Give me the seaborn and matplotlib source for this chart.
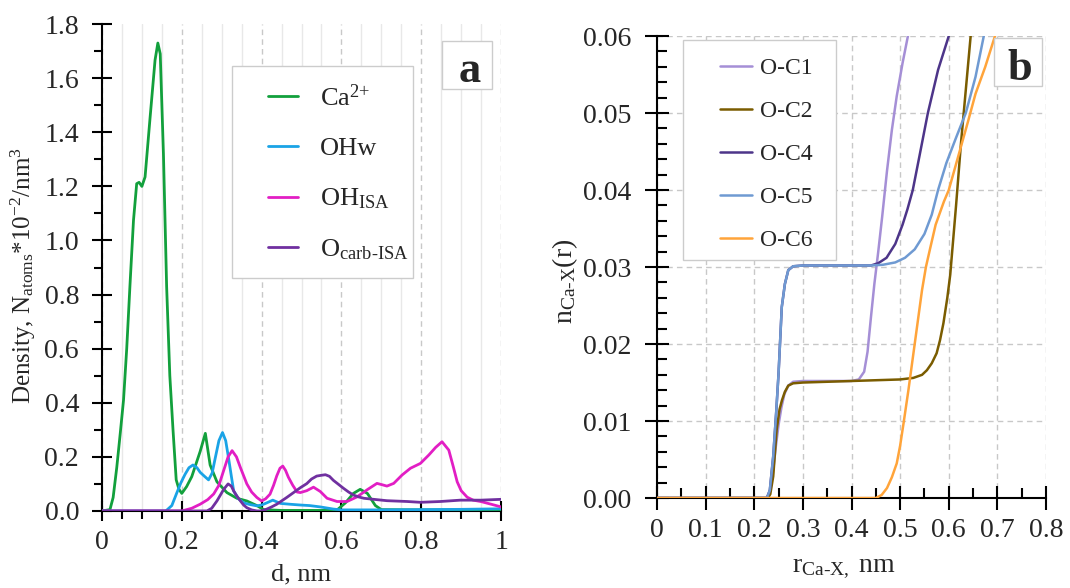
import matplotlib
matplotlib.use("Agg")
import matplotlib.pyplot as plt
from matplotlib.patches import Rectangle
from matplotlib.ticker import MultipleLocator, FormatStrFormatter
import seaborn as sns

# ---- panel a: density profiles vs distance d (nm) ----
ca_d = [0, 0.02, 0.028, 0.037, 0.046, 0.054, 0.062, 0.07, 0.079, 0.087, 0.093, 0.1, 0.108,
        0.12, 0.133, 0.14, 0.146, 0.154, 0.162, 0.17, 0.178, 0.186, 0.193, 0.2, 0.212, 0.225,
        0.246, 0.259, 0.271, 0.288, 0.313, 0.338, 0.363, 0.388, 0.405, 0.45, 0.55, 0.59, 0.61,
        0.63, 0.647, 0.665, 0.685, 0.7, 0.8, 1.0]
ca_rho = [0, 0.005, 0.05, 0.16, 0.29, 0.41, 0.6, 0.83, 1.075, 1.21, 1.215, 1.2, 1.235,
          1.445, 1.667, 1.73, 1.69, 1.32, 0.83, 0.5, 0.3, 0.115, 0.08, 0.065, 0.09, 0.127,
          0.22, 0.287, 0.17, 0.108, 0.068, 0.047, 0.037, 0.02, 0.005, 0.002, 0.002, 0.005, 0.03,
          0.065, 0.08, 0.065, 0.02, 0.005, 0.004, 0.005]

ohw_d = [0, 0.16, 0.175, 0.187, 0.198, 0.208, 0.218, 0.228, 0.238, 0.246, 0.257, 0.267, 0.276,
         0.284, 0.293, 0.302, 0.31, 0.317, 0.324, 0.33, 0.342, 0.355, 0.37, 0.388, 0.4, 0.413,
         0.428, 0.447, 0.47, 0.497, 0.52, 0.547, 0.58, 0.6, 0.7, 0.8, 0.9, 1.0]
ohw_rho = [0, 0, 0.02, 0.065, 0.105, 0.135, 0.16, 0.17, 0.16, 0.143, 0.128, 0.115, 0.14,
           0.197, 0.26, 0.29, 0.26, 0.197, 0.13, 0.074, 0.045, 0.03, 0.024, 0.019, 0.022, 0.03,
           0.04, 0.028, 0.025, 0.022, 0.02, 0.015, 0.007, 0.004, 0.004, 0.005, 0.006, 0.008]

ohisa_d = [0, 0.2, 0.225, 0.246, 0.265, 0.28, 0.293, 0.305, 0.316, 0.326, 0.337, 0.347, 0.363,
           0.375, 0.388, 0.4, 0.41, 0.421, 0.43, 0.438, 0.446, 0.453, 0.46, 0.467, 0.478, 0.489,
           0.497, 0.513, 0.53, 0.547, 0.564, 0.589, 0.614, 0.639, 0.664, 0.689, 0.702, 0.714,
           0.731, 0.752, 0.773, 0.798, 0.819, 0.836, 0.852, 0.869, 0.88, 0.89, 0.9, 0.915, 0.93,
           0.949, 0.975, 1.0]
ohisa_rho = [0, 0, 0.01, 0.025, 0.042, 0.063, 0.095, 0.15, 0.2, 0.223, 0.2, 0.16, 0.1,
             0.07, 0.05, 0.037, 0.045, 0.062, 0.095, 0.13, 0.158, 0.166, 0.15, 0.125, 0.095, 0.07,
             0.068, 0.075, 0.088, 0.072, 0.047, 0.035, 0.035, 0.052, 0.078, 0.102, 0.097, 0.092,
             0.102, 0.133, 0.158, 0.176, 0.207, 0.235, 0.256, 0.225, 0.165, 0.108, 0.075, 0.051,
             0.04, 0.035, 0.025, 0.015]

ocarb_d = [0, 0.263, 0.275, 0.288, 0.298, 0.305, 0.316, 0.324, 0.33, 0.338, 0.347, 0.355, 0.363,
           0.375, 0.388, 0.4, 0.413, 0.425, 0.438, 0.45, 0.463, 0.48, 0.497, 0.513, 0.525, 0.538,
           0.55, 0.56, 0.57, 0.58, 0.593, 0.605, 0.618, 0.63, 0.643, 0.656, 0.681, 0.714, 0.765,
           0.798, 0.848, 0.898, 0.949, 1.0]
ocarb_rho = [0, 0, 0.01, 0.037, 0.062, 0.08, 0.1, 0.092, 0.074, 0.055, 0.037, 0.022, 0.012,
             0.004, 0, 0, 0.007, 0.015, 0.025, 0.037, 0.05, 0.068, 0.086, 0.101, 0.118, 0.129,
             0.132, 0.134, 0.128, 0.113, 0.098, 0.084, 0.07, 0.059, 0.052, 0.047, 0.043, 0.038,
             0.035, 0.032, 0.035, 0.04, 0.04, 0.043]

density_labels = ["Ca$^{2{+}}$", "OHw", "OH$_{\\mathregular{ISA}}$",
                  "O$_{\\mathregular{carb\u2010ISA}}$"]
density_colors = ["#12a03c", "#1aa3e6", "#e21ec4", "#7030a0"]

# ---- panel b: running coordination numbers vs r (nm) ----
c1_r = [0, 0.225, 0.232, 0.238, 0.244, 0.25, 0.256, 0.262, 0.27, 0.28, 0.3, 0.35, 0.4, 0.415,
        0.426, 0.433, 0.44, 0.447, 0.455, 0.463, 0.473, 0.483, 0.493, 0.505, 0.516, 0.525]
c1_n = [0, 0, 0.0008, 0.003, 0.0065, 0.0095, 0.0118, 0.0135, 0.0146, 0.0151, 0.0152, 0.0152,
        0.0152, 0.0154, 0.0164, 0.019, 0.0235, 0.0278, 0.032, 0.0365, 0.0425, 0.0478, 0.0522,
        0.0565, 0.06, 0.063]

c2_r = [0, 0.228, 0.233, 0.239, 0.246, 0.252, 0.257, 0.263, 0.27, 0.28, 0.3, 0.35, 0.4, 0.45,
        0.5, 0.527, 0.545, 0.555, 0.565, 0.575, 0.582, 0.589, 0.597, 0.603, 0.615, 0.625, 0.635,
        0.645, 0.65]
c2_n = [0, 0, 0.0005, 0.0028, 0.0088, 0.0115, 0.0127, 0.0138, 0.0146, 0.0149, 0.015, 0.0151,
        0.0152, 0.0153, 0.0154, 0.0156, 0.016, 0.0166, 0.0175, 0.0188, 0.0205, 0.0227, 0.026,
        0.029, 0.038, 0.046, 0.053, 0.06, 0.063]

c4_r = [0, 0.226, 0.232, 0.239, 0.245, 0.25, 0.2566, 0.263, 0.27, 0.28, 0.3, 0.35, 0.4, 0.44,
        0.455, 0.472, 0.49, 0.505, 0.515, 0.526, 0.54, 0.557, 0.578, 0.6, 0.61]
c4_n = [0, 0, 0.001, 0.0054, 0.011, 0.0162, 0.0248, 0.0278, 0.0296, 0.0301, 0.0302, 0.0302,
        0.0302, 0.0302, 0.0305, 0.0312, 0.033, 0.0355, 0.0375, 0.04, 0.0445, 0.05, 0.0556,
        0.06, 0.062]

c5_r = [0, 0.226, 0.232, 0.239, 0.245, 0.25, 0.2566, 0.263, 0.27, 0.28, 0.3, 0.35, 0.4, 0.44,
        0.465, 0.49, 0.51, 0.53, 0.55, 0.565, 0.578, 0.595, 0.615, 0.635, 0.655, 0.672, 0.68]
c5_n = [0, 0, 0.001, 0.0054, 0.011, 0.0162, 0.0248, 0.0278, 0.0296, 0.0301, 0.0302, 0.0302,
        0.0302, 0.0302, 0.0303, 0.0306, 0.0312, 0.0323, 0.0343, 0.0368, 0.04, 0.0435, 0.0468,
        0.05, 0.0547, 0.06, 0.062]

c6_r = [0, 0.45, 0.462, 0.473, 0.483, 0.493, 0.5, 0.507, 0.517, 0.531, 0.545, 0.553, 0.562,
        0.573, 0.59, 0.6, 0.62, 0.64, 0.655, 0.675, 0.695, 0.7]
c6_n = [0, 0, 0.0004, 0.0013, 0.0027, 0.0045, 0.0068, 0.0097, 0.014, 0.0205, 0.027, 0.03,
        0.0325, 0.0355, 0.0385, 0.04, 0.0445, 0.049, 0.0525, 0.056, 0.06, 0.061]

coord_labels = ["O-C1", "O-C2", "O-C4", "O-C5", "O-C6"]
coord_colors = ["#a58fd6", "#7a5c00", "#4d3589", "#6f9ad2", "#ffa43a"]

sns.set_theme(style="white")
plt.rcParams["font.family"] = ["Liberation Serif", "DejaVu Serif"]
plt.rcParams["mathtext.fontset"] = "custom"
plt.rcParams["mathtext.rm"] = "Liberation Serif"
plt.rcParams["mathtext.it"] = "Liberation Serif:italic"
plt.rcParams["axes.unicode_minus"] = False

GRID = "#c8c8c8"
FRAME = "#cccccc"

fig = plt.figure(figsize=(10.7, 5.88), dpi=100)
ax_a = fig.add_axes([0.0953, 0.131, 0.373, 0.828])
ax_b = fig.add_axes([0.614, 0.153, 0.3636, 0.7857])

# panel a
density = [(ca_d, ca_rho), (ohw_d, ohw_rho), (ohisa_d, ohisa_rho), (ocarb_d, ocarb_rho)]
for (xs, ys), lab, col in zip(density, density_labels, density_colors):
    sns.lineplot(x=xs, y=ys, ax=ax_a, color=col, lw=2.0, label=lab, sort=False,
                 estimator=None, zorder=3)

ax_a.set_xlim(0, 1)
ax_a.set_ylim(0, 1.8)
ax_a.xaxis.set_major_locator(MultipleLocator(0.2))
ax_a.xaxis.set_minor_locator(MultipleLocator(0.05))
ax_a.yaxis.set_major_locator(MultipleLocator(0.2))
ax_a.yaxis.set_minor_locator(MultipleLocator(0.1))
ax_a.xaxis.set_major_formatter(FormatStrFormatter("%g"))
ax_a.yaxis.set_major_formatter(FormatStrFormatter("%.1f"))
ax_a.grid(False)
ax_a.xaxis.grid(True, which="minor", color="#e8e8e8", lw=1.0, ls="-")
ax_a.xaxis.grid(True, which="major", color=GRID, lw=1.0, ls=(0, (4, 3)))
ax_a.tick_params(which="both", left=True, bottom=True)
ax_a.tick_params(which="major", direction="inout", length=15, width=1.5, labelsize=20, pad=6,
                 color="black")
ax_a.tick_params(axis="y", which="major", pad=9)
ax_a.tick_params(which="minor", direction="out", length=6, width=1.5, color="black")
ax_a.set_xlabel("d, nm", fontsize=19)
ax_a.set_ylabel("Density, N$_{\\mathregular{atoms}}$*10$^{\\mathregular{-2}}$/nm$^{\\mathregular{3}}$",
                fontsize=18)
ax_a.xaxis.set_label_coords(0.5, -0.107)
ax_a.yaxis.set_label_coords(-0.16, 0.483)

ax_a.add_patch(Rectangle((0.3258, 0.4784), 0.4536, 0.4353, transform=ax_a.transAxes,
                         facecolor="white", edgecolor=FRAME, lw=1.0, zorder=4))
ax_a.legend(loc="upper left", bbox_to_anchor=(0.416, 0.877), fontsize=19, frameon=False,
            handlelength=1.14, handletextpad=0.83, labelspacing=1.0, borderpad=0,
            borderaxespad=0).set_zorder(5)
ax_a.add_patch(Rectangle((0.852, 0.866), 0.125, 0.099, transform=ax_a.transAxes,
                         facecolor="white", edgecolor=FRAME, lw=1.0, zorder=5))
ax_a.text(0.922, 0.881, "a", transform=ax_a.transAxes, fontsize=32, fontweight="bold",
          ha="center", va="baseline", zorder=6)

# panel b
coords = [(c1_r, c1_n), (c2_r, c2_n), (c4_r, c4_n), (c5_r, c5_n), (c6_r, c6_n)]
for (xs, ys), lab, col in zip(coords, coord_labels, coord_colors):
    sns.lineplot(x=xs, y=ys, ax=ax_b, color=col, lw=1.8, label=lab, sort=False,
                 estimator=None, zorder=3)

ax_b.set_xlim(0, 0.8)
ax_b.set_ylim(0, 0.06)
ax_b.xaxis.set_major_locator(MultipleLocator(0.1))
ax_b.xaxis.set_minor_locator(MultipleLocator(0.05))
ax_b.yaxis.set_major_locator(MultipleLocator(0.01))
ax_b.yaxis.set_minor_locator(MultipleLocator(0.002))
ax_b.xaxis.set_major_formatter(FormatStrFormatter("%g"))
ax_b.yaxis.set_major_formatter(FormatStrFormatter("%.2f"))
ax_b.grid(True, which="major", color=GRID, lw=1.0, ls=(0, (4, 3)))
ax_b.tick_params(which="both", left=True, bottom=True)
ax_b.tick_params(which="major", direction="inout", length=17, width=1.5, labelsize=20, pad=6,
                 color="black")
ax_b.tick_params(axis="y", which="major", pad=10)
ax_b.tick_params(which="minor", direction="in", length=7, width=1.5, color="black")
ax_b.set_xlabel("r$_{\\mathregular{Ca\u2010X,}}$ nm", fontsize=20)
ax_b.set_ylabel("n$_{\\mathregular{Ca\u2010X}}$(r)", fontsize=20)
ax_b.xaxis.set_label_coords(0.48, -0.125)
ax_b.yaxis.set_label_coords(-0.198, 0.47)

ax_b.add_patch(Rectangle((0.0668, 0.5152), 0.3933, 0.4762, transform=ax_b.transAxes,
                         facecolor="white", edgecolor=FRAME, lw=1.0, zorder=4))
ax_b.legend(loc="upper left", bbox_to_anchor=(0.162, 0.953), fontsize=17, frameon=False,
            handlelength=1.35, handletextpad=0.34, labelspacing=0.91, borderpad=0,
            borderaxespad=0).set_zorder(5)
ax_b.add_patch(Rectangle((0.866, 0.892), 0.1234, 0.1039, transform=ax_b.transAxes,
                         facecolor="white", edgecolor=FRAME, lw=1.0, zorder=5, clip_on=False))
ax_b.text(0.933, 0.905, "b", transform=ax_b.transAxes, fontsize=32, fontweight="bold",
          ha="center", va="baseline", zorder=6)

for ax in (ax_a, ax_b):
    for side in ("top", "right"):
        ax.spines[side].set_visible(False)
    for side in ("left", "bottom"):
        ax.spines[side].set_color("black")
        ax.spines[side].set_linewidth(1.5)

fig.savefig("out.png", dpi=100)
plt.close(fig)
